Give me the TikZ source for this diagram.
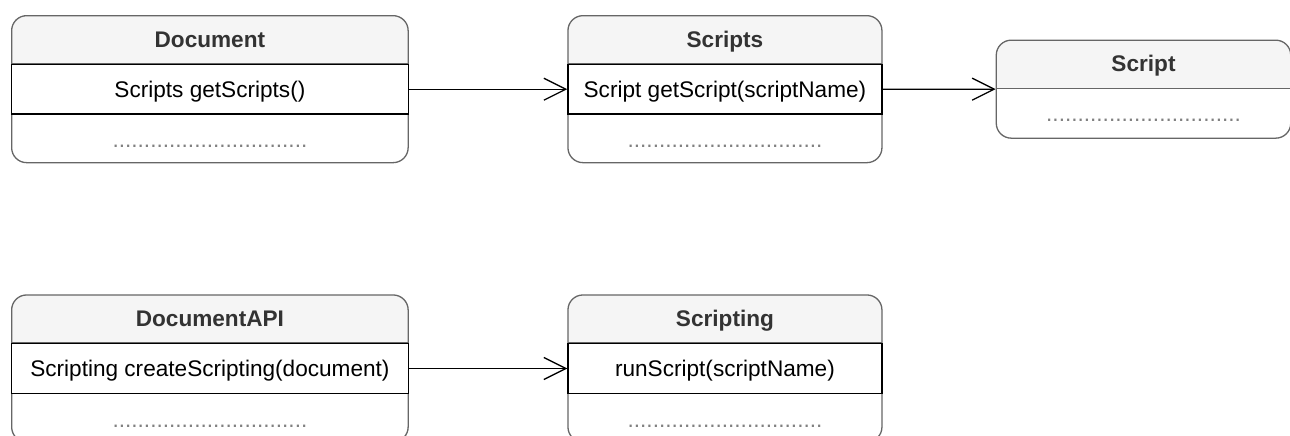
\documentclass[tikz,border=0pt]{standalone}
\usepackage{fontspec}
\setmainfont{Liberation Sans}
\usepackage{tikz}
\usetikzlibrary{arrows.meta, positioning}

\definecolor{boxline}{HTML}{666666}
\definecolor{headfill}{HTML}{F5F5F5}
\definecolor{headtext}{HTML}{333333}
\definecolor{dotgray}{HTML}{808080}

\begin{document}
\begin{tikzpicture}[node distance=2cm,
    font=\fontsize{11.3pt}{13.5pt}\selectfont,
    classbox/.style={draw=boxline, fill=white, line width=0.65pt, rounded corners=7.5pt, inner sep=0pt,
      path picture={
        \fill[headfill, sharp corners] (path picture bounding box.north west) rectangle ([yshift=-24pt]path picture bounding box.north east);
        \draw[boxline, line width=0.65pt, sharp corners] ([yshift=-24pt]path picture bounding box.north west) -- ([yshift=-24pt]path picture bounding box.north east);
      }},
    titletext/.style={font=\fontsize{11.3pt}{13.5pt}\selectfont\bfseries, text=headtext, minimum height=24pt, inner sep=0pt, text height=8pt, text depth=0pt},
    methodrow/.style={draw=black, fill=white, line width=0.65pt, minimum height=24.75pt, inner sep=0pt, text height=8pt, text depth=0pt},
    fielddots/.style={text=dotgray, inner sep=0pt},
    assoc/.style={line width=0.65pt, -{Straight Barb[length=11pt, width=11pt]}}]

    \useasboundingbox (0,0) rectangle (645pt,-217.5pt);

    % Class boxes, top row
    \node (doc) [classbox, minimum width=198.25pt, minimum height=73.5pt, anchor=north west] at (5.5pt,-7.5pt) {};
    \node (doctitle) [titletext, below=0pt of doc.north] {Document};
    \node (docops) [methodrow, minimum width=198.25pt, below=0pt of doctitle] {Scripts getScripts()};
    \node (docfields) [fielddots, above=7.5pt of doc.south] {...............................};

    \node (scripts) [classbox, minimum width=157pt, minimum height=73.5pt, right=79.25pt of doc] {};
    \node (scriptstitle) [titletext, below=0pt of scripts.north] {Scripts};
    \node (scriptsops) [methodrow, minimum width=157pt, below=0pt of scriptstitle] {Script getScript(scriptName)};
    \node (scriptsfields) [fielddots, above=7.5pt of scripts.south] {...............................};

    \node (script) [classbox, minimum width=147.25pt, minimum height=49pt, right=56.5pt of scripts] {};
    \node (scripttitle) [titletext, below=0pt of script.north] {Script};
    \node (scriptfields) [fielddots, above=8.5pt of script.south] {...............................};

    % Class boxes, bottom row
    \node (docapi) [classbox, minimum width=198.25pt, minimum height=73.5pt, below=65.5pt of doc] {};
    \node (docapititle) [titletext, below=0pt of docapi.north] {DocumentAPI};
    \node (docapiops) [methodrow, minimum width=198.25pt, below=0pt of docapititle] {Scripting createScripting(document)};
    \node (docapifields) [fielddots, above=7.5pt of docapi.south] {...............................};

    \node (scripting) [classbox, minimum width=157pt, minimum height=73.5pt, right=79.25pt of docapi] {};
    \node (scriptingtitle) [titletext, below=0pt of scripting.north] {Scripting};
    \node (scriptingops) [methodrow, minimum width=157pt, below=0pt of scriptingtitle] {runScript(scriptName)};
    \node (scriptingfields) [fielddots, above=7.5pt of scripting.south] {...............................};

    % Associations
    \draw[assoc] (docops) -- (scriptsops);
    \draw[assoc] (scriptsops) -- (script);
    \draw[assoc] (docapiops) -- (scriptingops);

\end{tikzpicture}
\end{document}
